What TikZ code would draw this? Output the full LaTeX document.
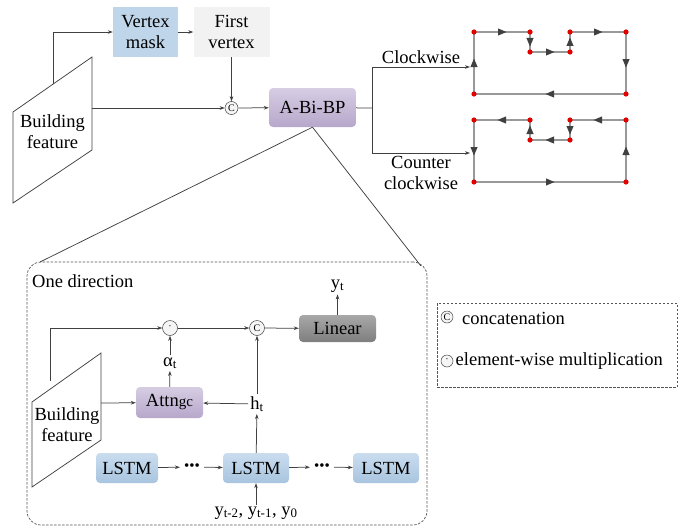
\documentclass[tikz,border=0pt]{standalone}
\usepackage{fontspec}
\setmainfont{Liberation Serif}
\usetikzlibrary{arrows.meta,decorations.markings}
\definecolor{lnc}{HTML}{404040}
\definecolor{vmaskc}{HTML}{BFD5E9}
\definecolor{fvc}{HTML}{F2F2F2}
\definecolor{purtop}{HTML}{D6CDE3}
\definecolor{purbot}{HTML}{B7A7CB}
\definecolor{bluetop}{HTML}{CADDEF}
\definecolor{bluebot}{HTML}{A8C4DF}
\definecolor{greytop}{HTML}{A8A8A8}
\definecolor{greybot}{HTML}{7E7E7E}
\definecolor{polyc}{HTML}{999999}
\definecolor{arrc}{HTML}{404040}
\definecolor{dotc}{HTML}{E00000}
\definecolor{dashc}{HTML}{555555}
\newcommand\fsz{\fontsize{18.5}{21}\selectfont}
\begin{document}
\begin{tikzpicture}[x=1pt,y=-1pt,
  every node/.style={font=\fsz, text=black, inner sep=2pt},
  ln/.style={draw=lnc, line width=0.75pt},
  arr/.style={ln, -{Stealth[length=5pt,width=3.6pt]}},
  flatbox/.style={inner sep=0pt, align=center},
  purp/.style={rounded corners=4pt, top color=purtop, bottom color=purbot, inner sep=0pt},
  bluebox/.style={rounded corners=4pt, top color=bluetop, bottom color=bluebot, inner sep=0pt, minimum height=30pt},
  darkbox/.style={rounded corners=4pt, top color=greytop, bottom color=greybot, inner sep=0pt},
  opc/.style={circle, draw=lnc, line width=0.5pt, fill=gray!8, minimum size=13pt, inner sep=0pt, font=\fontsize{10}{10}\selectfont},
  dashbox/.style={draw=dashc, line width=0.7pt, dash pattern=on 2.5pt off 1.5pt},
  polyseg/.style={draw=polyc, line width=1.2pt, postaction={decorate},
    decoration={markings, mark=at position 0.5 with {\fill[arrc] (4.5pt,0pt) -- (-4pt,3.6pt) -- (-4pt,-3.6pt) -- cycle;}}}
]
\useasboundingbox (0,0) rectangle (692,527);

% ---------- top part ----------
\draw[ln] (13,112) -- (92,57) -- (92,150) -- (13,203) -- cycle;
\node[align=center, inner sep=0pt] (bf1) at (52.5,132) {Building\\feature};
\coordinate (bf1top) at (53,84);
\coordinate (bf1right) at (92,108);

\node[flatbox, fill=vmaskc, minimum width=65pt, minimum height=50pt] (vmask) at (145.5,32) {Vertex\\mask};
\node[flatbox, fill=fvc, minimum width=76pt, minimum height=50pt] (fvert) at (231.5,32) {First\\vertex};
\node[opc] (cc1) at (231.5,108) {C};
\node[purp, minimum width=87pt, minimum height=39pt] (abibp) at (312.5,107.5) {A-Bi-BP};

\draw[arr] (bf1top) |- (vmask.west);
\draw[arr] (vmask) -- (fvert);
\draw[arr] (fvert) -- (cc1);
\draw[arr] (bf1right) -- (cc1);
\draw[arr] (cc1) -- (abibp);

\coordinate (split) at (372,108);
\coordinate (cwend) at (470,67);
\coordinate (ccwend) at (470,153);
\draw[ln] (abibp) -- (split);
\draw[arr] (split) |- (cwend);
\draw[arr] (split) |- (ccwend);
\node (cwlab) at (421,57) {Clockwise};
\node[align=center, inner sep=0pt] (ccwlab) at (421,173) {Counter\\clockwise};

% polygons
\coordinate (p1) at (474,32); \coordinate (p2) at (530,32);
\coordinate (p3) at (530,52); \coordinate (p4) at (570,52);
\coordinate (p5) at (570,32); \coordinate (p6) at (626,32);
\coordinate (p7) at (626,94); \coordinate (p8) at (474,94);
\coordinate (q1) at (474,120); \coordinate (q2) at (530,120);
\coordinate (q3) at (530,140); \coordinate (q4) at (570,140);
\coordinate (q5) at (570,120); \coordinate (q6) at (626,120);
\coordinate (q7) at (626,182); \coordinate (q8) at (474,182);
\foreach \a/\b in {p8/p1,p1/p2,p2/p3,p3/p4,p4/p5,p5/p6,p6/p7,p7/p8,
                   q1/q8,q8/q7,q7/q6,q6/q5,q5/q4,q4/q3,q3/q2,q2/q1}
  \draw[polyseg] (\a) -- (\b);
\foreach \p in {p1,p2,p3,p4,p5,p6,p7,p8,q1,q2,q3,q4,q5,q6,q7,q8}
  \fill[dotc] (\p) circle (2.6pt);

% ---------- one direction box ----------
\node[dashbox, rounded corners=14pt, minimum width=400pt, minimum height=263pt] (dir) at (227,393.5) {};
\coordinate (dirTL) at (40,262);
\coordinate (dirTR) at (421,266);
\draw[ln] (abibp.south) -- (dirTL);
\draw[ln] (abibp.south) -- (dirTR);
\node[anchor=west, inner sep=0pt] (onedir) at (32,281) {One direction};

\draw[ln] (32,402) -- (101,353) -- (101,440) -- (32,487) -- cycle;
\node[align=center, inner sep=0pt] (bf2) at (67,425) {Building\\feature};
\coordinate (bf2top) at (50,381);
\coordinate (bf2right) at (101,403);

\node[opc, minimum size=15pt] (dot2) at (170,328) {\textperiodcentered};
\node[opc, minimum size=15pt] (cc2) at (257,328) {C};
\node[darkbox, minimum width=77pt, minimum height=27pt] (linear) at (337.5,328.5) {Linear};
\node (yt) at (337.5,286) {y\textsubscript{t}};
\node[purp, minimum width=67pt, minimum height=31pt] (attn) at (169.5,402.5) {Attn{\fontsize{15}{15}\selectfont gc}};
\node (alpha) at (170,363) {α\textsubscript{t}};
\node (ht) at (257,404) {h\textsubscript{t}};

\node[bluebox, minimum width=62pt] (lstm1) at (127,468) {LSTM};
\node[bluebox, minimum width=66pt] (lstm2) at (256,468) {LSTM};
\node[bluebox, minimum width=66pt] (lstm3) at (386,468) {LSTM};
\node[font=\fontsize{15}{15}\selectfont, inner sep=4pt] (dots1) at (192,467) {•••};
\node[font=\fontsize{15}{15}\selectfont, inner sep=4pt] (dots2) at (322,467) {•••};
\node (yin) at (256,513) {y\textsubscript{t-2}, y\textsubscript{t-1}, y\textsubscript{0}};

\draw[arr] (bf2top) |- (dot2.west);
\draw[arr] (dot2) -- (cc2);
\draw[arr] (cc2) -- (linear);
\draw[arr] (linear) -- (yt);
\draw[arr] (attn) -- (alpha);
\draw[arr] (alpha) -- (dot2);
\draw[arr] (bf2right) -- (attn);
\draw[arr] (ht) -- (attn);
\draw[arr] (ht) -- (cc2);
\draw[arr] (lstm2) -- (ht);
\draw[arr] (lstm1) -- (dots1);
\draw[arr] (dots1) -- (lstm2);
\draw[arr] (lstm2) -- (dots2);
\draw[arr] (dots2) -- (lstm3);
\draw[arr] (yin) -- (lstm2);

% ---------- legend ----------
\node[dashbox, minimum width=240pt, minimum height=84pt] (legend) at (557,345) {};
\node[opc, minimum size=12pt] (lc) at (447,317) {C};
\node[anchor=west, inner sep=0pt] (lctext) at (462,318) {concatenation};
\node[opc, minimum size=12pt] (ld) at (447,361) {\textperiodcentered};
\node[anchor=west, inner sep=0pt] (ldtext) at (455.5,361) {element-wise multiplication};
\end{tikzpicture}
\end{document}
